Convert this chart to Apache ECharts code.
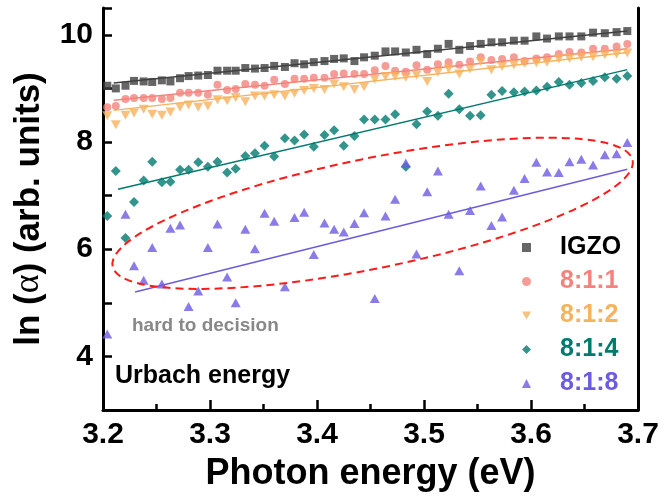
<!DOCTYPE html>
<html>
<head>
<meta charset="utf-8">
<script src="https://cdn.jsdelivr.net/npm/echarts@6/dist/echarts.min.js"></script>
<style>html,body{margin:0;padding:0;background:#fff}#main{width:664px;height:498px}</style>
</head>
<body>
<div id="main"></div>
<script>
// photon energy (eV), one point per nm step
var energy = [3.204,3.212,3.221,3.229,3.238,3.246,3.255,3.263,3.272,3.280,3.289,3.298,3.307,3.316,3.324,3.333,3.342,3.351,3.360,3.370,3.379,3.388,3.397,3.407,3.416,3.425,3.435,3.444,3.454,
  3.464,3.473,3.483,3.493,3.503,3.513,3.523,3.533,3.543,3.553,3.563,3.573,3.584,3.594,3.605,3.615,3.626,3.636,3.647,3.658,3.669,3.680,3.690];

var igzo = [9.05,9.00,9.05,9.14,9.13,9.12,9.15,9.13,9.19,9.23,9.24,9.25,9.33,9.33,9.33,9.38,9.37,9.38,9.42,9.40,9.47,9.45,9.49,9.51,9.55,9.56,9.51,9.58,9.61,
  9.69,9.69,9.67,9.72,9.64,9.74,9.83,9.72,9.79,9.83,9.86,9.86,9.89,9.89,9.97,9.93,9.97,9.97,9.97,10.04,10.03,10.05,10.07];
var r811 = [8.65,8.67,8.80,8.82,8.82,8.82,8.80,8.82,8.92,8.92,8.92,8.88,9.07,8.97,8.99,9.08,9.07,9.05,9.16,9.08,9.18,9.18,9.20,9.20,9.27,9.28,9.27,9.27,9.34,
  9.42,9.33,9.31,9.43,9.35,9.45,9.49,9.44,9.50,9.58,9.53,9.55,9.58,9.51,9.56,9.58,9.64,9.68,9.67,9.74,9.74,9.78,9.83];
var r812 = [8.49,8.32,8.50,8.54,8.61,8.52,8.50,8.56,8.65,8.69,8.65,8.67,8.79,8.77,8.83,8.75,8.86,8.86,8.88,8.86,8.91,8.96,9.00,8.98,9.08,9.03,8.98,9.03,9.17,
  9.22,9.22,9.21,9.25,9.13,9.30,9.36,9.27,9.36,9.50,9.35,9.41,9.44,9.47,9.48,9.49,9.55,9.56,9.58,9.59,9.63,9.64,9.66];
var r814 = [6.62,7.46,6.21,6.88,7.28,7.63,7.25,7.26,7.48,7.48,7.62,7.54,7.63,7.43,7.50,7.74,7.79,7.93,7.73,8.07,8.03,8.14,7.91,8.13,8.22,7.93,8.11,8.42,8.42,
  8.42,8.52,7.54,8.33,8.57,8.49,8.90,8.61,8.49,8.50,8.88,8.95,8.93,8.94,8.96,9.03,9.12,9.07,9.10,9.14,9.21,9.18,9.23];
var r818 = [4.42,null,6.65,5.69,5.42,6.03,5.35,6.39,6.45,4.93,5.22,6.03,6.47,5.48,5.00,6.37,6.01,6.67,6.52,5.30,6.59,6.69,5.90,6.49,6.37,6.32,6.48,6.68,5.08,
  6.62,6.93,7.61,5.91,7.07,7.46,6.65,5.60,6.72,7.18,6.44,6.60,7.10,7.32,7.62,7.44,7.43,7.63,7.68,7.57,7.76,7.78,7.99];

// linear fits (end points)
var fitIGZO = [[3.21,9.10],[3.69,10.07]];
var fit811 = [[3.21,8.78],[3.69,9.74]];
var fit812 = [[3.21,8.59],[3.69,9.67]];
var fit814 = [[3.214,7.12],[3.69,9.35]];
var fit818 = [[3.23,5.20],[3.69,7.49]];

// dashed ellipse: ends of the long axis, in data units
var ellipseTips = [[3.209,5.68],[3.695,7.66]];

var names = ['IGZO','8:1:1','8:1:2','8:1:4','8:1:8'];
var colors = ['#404040','#F4837D','#F7B25C','#00796F','#6B5BE2'];
var textColors = ['#000000','#F4837D','#F7B25C','#00796F','#6B5BE2'];
var downTri = 'path://M0,0 L10,0 L5,9 Z';
var icons = ['rect','circle',downTri,'diamond','triangle'];

var FONT = '"Liberation Sans", Arial, sans-serif';

function pairs(ys){
  var out = [];
  for (var i = 0; i < energy.length; i++) {
    if (ys[i] != null) out.push([energy[i], ys[i]]);
  }
  return out;
}

function fitLine(name, d, c){
  return {name: name, type: 'line', data: d, symbol: 'none', silent: true,
    lineStyle: {color: c, width: 1.5}, z: 1};
}

var chart = echarts.init(document.getElementById('main'));

var option = {
  animation: false,
  grid: {left: 103, right: 26, top: 8, bottom: 88},
  legend: {
    orient: 'vertical', left: 517, top: 230,
    itemWidth: 9, itemHeight: 9, itemGap: 9,
    formatter: function(n){ return '{g|}' + n; },
    textStyle: {fontFamily: FONT, fontWeight: 'bold', fontSize: 25, lineHeight: 25,
      rich: {g: {width: 24}}},
    data: names.map(function(n, i){ return {name: n, icon: icons[i], textStyle: {color: textColors[i]}}; })
  },
  xAxis: {
    type: 'value', min: 3.2, max: 3.7, interval: 0.1,
    name: 'Photon energy (eV)', nameLocation: 'middle', nameGap: 46,
    nameTextStyle: {fontFamily: FONT, fontWeight: 'bold', fontSize: 36, color: '#000'},
    axisLine: {lineStyle: {color: '#000', width: 3}},
    axisTick: {inside: true, length: 10, lineStyle: {color: '#000', width: 2.5}},
    minorTick: {show: true, splitNumber: 2, length: 6, lineStyle: {color: '#000', width: 2.5}},
    axisLabel: {fontFamily: FONT, fontWeight: 'bold', fontSize: 30, color: '#000', margin: 10,
      formatter: function(v){ return v.toFixed(1); }},
    splitLine: {show: false}
  },
  yAxis: [{
    type: 'value', min: 3, max: 10.5, interval: 1,
    name: 'ln ({a|α}) (arb. units)', nameLocation: 'middle', nameGap: 56,
    nameTextStyle: {fontFamily: FONT, fontWeight: 'bold', fontSize: 35, color: '#000',
      rich: {a: {fontFamily: '"Liberation Serif", serif', fontWeight: 'normal', fontSize: 36, color: '#000'}}},
    axisLine: {onZero: false, lineStyle: {color: '#000', width: 3}},
    axisTick: {inside: true, length: 9, lineStyle: {color: '#000', width: 2.5}},
    axisLabel: {fontFamily: FONT, fontWeight: 'bold', fontSize: 30, color: '#000', margin: 10,
      formatter: function(v){ return (v % 2 === 0 && v <= 10) ? String(v) : ''; }},
    splitLine: {show: false}
  }, {
    type: 'value', min: 3, max: 10.5, position: 'right',
    axisLine: {show: true, onZero: false, lineStyle: {color: '#000', width: 3}},
    axisTick: {show: false}, axisLabel: {show: false}, splitLine: {show: false}
  }],
  series: [
    fitLine('fitIGZO', fitIGZO, colors[0]),
    fitLine('fit811', fit811, colors[1]),
    fitLine('fit812', fit812, colors[2]),
    fitLine('fit814', fit814, colors[3]),
    fitLine('fit818', fit818, colors[4]),
    {name: 'IGZO', type: 'scatter', symbol: 'rect', symbolSize: 8, data: pairs(igzo), itemStyle: {color: colors[0]}},
    {name: '8:1:1', type: 'scatter', symbol: 'circle', symbolSize: 8, data: pairs(r811), itemStyle: {color: colors[1]}},
    {name: '8:1:2', type: 'scatter', symbol: downTri, symbolSize: [10, 9], data: pairs(r812), itemStyle: {color: colors[2]}},
    {name: '8:1:4', type: 'scatter', symbol: 'diamond', symbolSize: 10, data: pairs(r814), itemStyle: {color: colors[3]}},
    {name: '8:1:8', type: 'scatter', symbol: 'triangle', symbolSize: [10, 9], data: pairs(r818), itemStyle: {color: colors[4]}}
  ],
  graphic: [
    {type: 'text', left: 132, top: 316, style: {text: 'hard to decision', fill: '#888888',
      font: 'bold 19px ' + FONT}},
    {type: 'text', left: 115, top: 364, style: {text: 'Urbach energy', fill: '#000',
      font: 'bold 25px ' + FONT, shadowColor: 'rgba(0,0,0,0.35)', shadowBlur: 2, shadowOffsetX: 1, shadowOffsetY: 1}}
  ]
};

chart.setOption(option);

// place the dashed ellipse from its data-space tips
var p1 = chart.convertToPixel({gridIndex: 0}, ellipseTips[0]);
var p2 = chart.convertToPixel({gridIndex: 0}, ellipseTips[1]);
var dx = p2[0] - p1[0], dy = p2[1] - p1[1];
chart.setOption({
  graphic: [{
    type: 'ellipse', id: 'ring', z: 10,
    x: (p1[0] + p2[0]) / 2, y: (p1[1] + p2[1]) / 2,
    rotation: Math.atan2(-dy, dx),
    shape: {cx: 0, cy: 0, rx: Math.sqrt(dx * dx + dy * dy) / 2, ry: 55},
    style: {fill: 'none', stroke: '#FF1A1A', lineWidth: 2, lineDash: [8, 5]}
  }]
});
</script>
</body>
</html>
